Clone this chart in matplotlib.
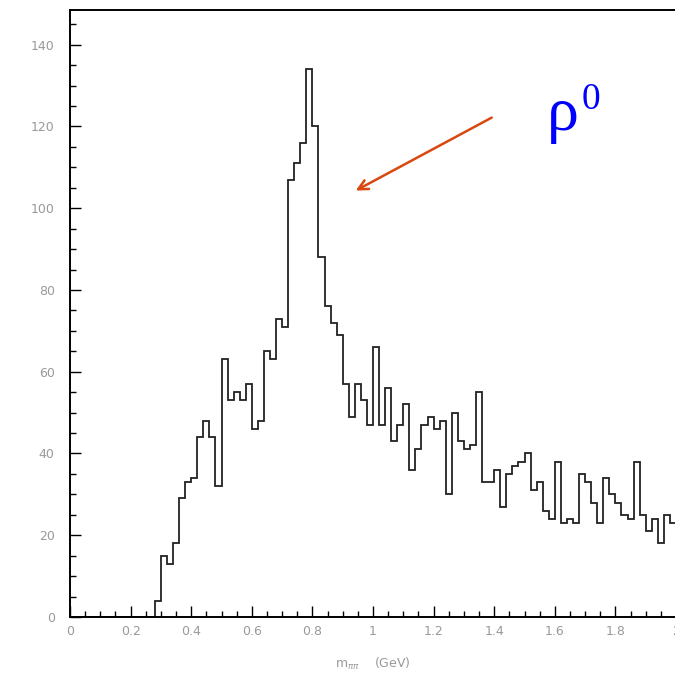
import matplotlib.pyplot as plt
import numpy as np
from matplotlib.ticker import MultipleLocator

# 100 bins of 0.02 GeV from 0 to 2
bin_edges = np.linspace(0.0, 2.0, 101)
counts = [0] * 14 + [
    4, 15, 13, 18, 29, 33, 34, 44, 48, 44,
    32, 63, 53, 55, 53, 57, 46, 48, 65, 63,
    73, 71, 107, 111, 116, 134, 120, 88, 76, 72,
    69, 57, 49, 57, 53, 47, 66, 47, 56, 43,
    47, 52, 36, 41, 47, 49, 46, 48, 30, 50,
    43, 41, 42, 55, 33, 33, 36, 27, 35, 37,
    38, 40, 31, 33, 26, 24, 38, 23, 24, 23,
    35, 33, 28, 23, 34, 30, 28, 25, 24, 38,
    25, 21, 24, 18, 25, 23,
]

x_ticks = [0, 0.2, 0.4, 0.6, 0.8, 1, 1.2, 1.4, 1.6, 1.8, 2]
x_labels = ["0", "0.2", "0.4", "0.6", "0.8", "1", "1.2", "1.4", "1.6", "1.8", "2"]
y_ticks = [0, 20, 40, 60, 80, 100, 120, 140]

arrow_tail = (1.40, 122.5)
arrow_head = (0.935, 104)

fig = plt.figure(figsize=(6.75, 6.78), dpi=100)
ax = fig.add_axes([70 / 675, 61 / 678, 606 / 675, 607 / 678])

ax.stairs(counts, bin_edges, color="#222222", linewidth=1.3)

ax.set_xlim(0, 2)
ax.set_ylim(0, 148.5)
ax.set_xticks(x_ticks)
ax.set_xticklabels(x_labels)
ax.set_yticks(y_ticks)
ax.xaxis.set_minor_locator(MultipleLocator(0.05))
ax.yaxis.set_minor_locator(MultipleLocator(5))
ax.tick_params(which="both", direction="in", top=False, right=False,
               colors="black", labelcolor="#999999", labelsize=9, width=1.0)
ax.tick_params(which="major", length=8)
ax.tick_params(which="minor", length=4)
ax.tick_params(axis="y", pad=11)
ax.tick_params(axis="x", pad=6)
for side in ["left", "bottom", "top", "right"]:
    ax.spines[side].set_linewidth(1.4)
    ax.spines[side].set_color("black")

ax.set_xlabel(r"$\mathrm{m}_{\pi\pi}$    (GeV)", color="#999999", fontsize=9,
              labelpad=13)

ax.annotate("", xy=arrow_head, xytext=arrow_tail,
            arrowprops=dict(arrowstyle="->,head_length=0.7,head_width=0.35",
                            color="#d9480f", linewidth=1.8))
ax.text(1.627, 119.2, "ρ", color="#0000ff", fontsize=46,
        family="Liberation Serif", ha="center", va="baseline")
ax.text(1.72, 124.3, "0", color="#0000ff", fontsize=27,
        family="Liberation Serif", ha="center", va="baseline")

fig.savefig("out.png", dpi=100)
plt.close(fig)
